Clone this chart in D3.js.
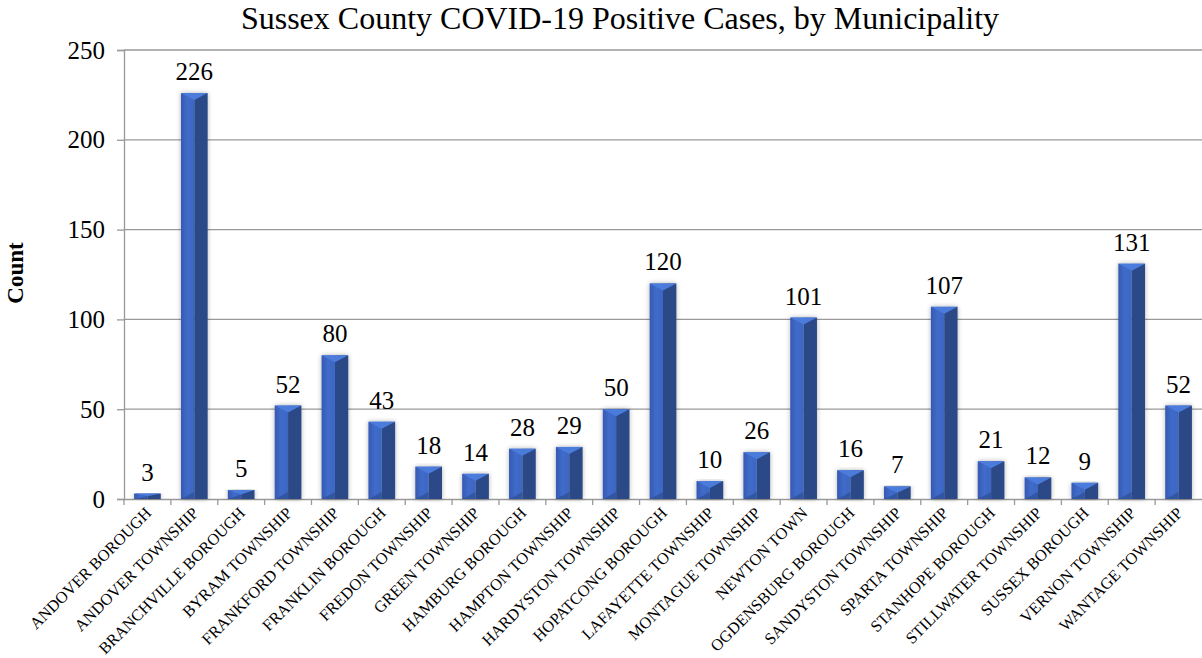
<!DOCTYPE html>
<html>
<meta charset="utf-8">
<script src="https://d3js.org/d3.v7.min.js"></script>
<style>
body { margin: 0; background: #fff; }
text { font-family: "Liberation Serif", "Times New Roman", serif; }
</style>
<body>
<script>

var towns = ["ANDOVER BOROUGH", "ANDOVER TOWNSHIP", "BRANCHVILLE BOROUGH", "BYRAM TOWNSHIP",
  "FRANKFORD TOWNSHIP", "FRANKLIN BOROUGH", "FREDON TOWNSHIP", "GREEN TOWNSHIP",
  "HAMBURG BOROUGH", "HAMPTON TOWNSHIP", "HARDYSTON TOWNSHIP", "HOPATCONG BOROUGH",
  "LAFAYETTE TOWNSHIP", "MONTAGUE TOWNSHIP", "NEWTON TOWN", "OGDENSBURG BOROUGH",
  "SANDYSTON TOWNSHIP", "SPARTA TOWNSHIP", "STANHOPE BOROUGH", "STILLWATER TOWNSHIP",
  "SUSSEX BOROUGH", "VERNON TOWNSHIP", "WANTAGE TOWNSHIP"];
var cases = [3, 226, 5, 52, 80, 43, 18, 14, 28, 29, 50, 120, 10, 26, 101, 16, 7, 107, 21, 12, 9, 131, 52];
var yTicks = [0, 50, 100, 150, 200, 250];

var width = 1202, height = 658;
var margin = ({top: 50, left: 124, right: 0, bottom: 159});

var svg = d3.select("body").append("svg")
  .attr("width", width)
  .attr("height", height);

var defs = svg.append("defs");
var f = defs.append("filter").attr("id", "shadow")
  .attr("x", "-30%").attr("y", "-10%").attr("width", "160%").attr("height", "120%");
f.append("feGaussianBlur").attr("in", "SourceAlpha").attr("stdDeviation", 2.5);
f.append("feOffset").attr("dx", 0).attr("dy", 0).attr("result", "blur");
f.append("feComponentTransfer").append("feFuncA").attr("type", "linear").attr("slope", 0.3);
var fm = f.append("feMerge");
fm.append("feMergeNode");
fm.append("feMergeNode").attr("in", "SourceGraphic");

var gl = defs.append("linearGradient").attr("id", "leftFace");
gl.append("stop").attr("offset", "0%").attr("stop-color", "#3659b2");
gl.append("stop").attr("offset", "50%").attr("stop-color", "#406cca");
gl.append("stop").attr("offset", "100%").attr("stop-color", "#3c65c2");

var x = d3.scaleBand()
  .domain(towns)
  .range([margin.left, width - margin.right])
  .paddingInner(0.43)
  .paddingOuter(0.215);

var xb = d3.scaleBand()
  .domain(towns)
  .range([margin.left, width - margin.right]);

var y = d3.scaleLinear()
  .domain([0, 250])
  .range([height - margin.bottom, margin.top]);

// gridlines
svg.append("g")
  .selectAll("line")
  .data(yTicks.slice(1))
  .enter().append("line")
  .attr("x1", margin.left).attr("x2", width - margin.right)
  .attr("y1", d => y(d)).attr("y2", d => y(d))
  .attr("stroke", "#999").attr("stroke-width", 1.3);

// y axis
var yAx = svg.append("g")
  .attr("transform", `translate(${margin.left},0)`)
  .call(d3.axisLeft(y).tickValues(yTicks).tickSize(7).tickPadding(12));
yAx.select(".domain").attr("stroke", "#999").attr("stroke-width", 1.3);
yAx.selectAll(".tick line").attr("stroke", "#999").attr("stroke-width", 1.3);
yAx.selectAll("text").attr("font-size", 25).attr("fill", "#000");

// x axis
var xAx = svg.append("g")
  .attr("transform", `translate(0,${y(0)})`)
  .call(d3.axisBottom(xb).tickSize(0).tickFormat(""));
xAx.select(".domain").attr("stroke", "#999").attr("stroke-width", 1.3);
xAx.selectAll(".tick").remove();
xAx.selectAll(".bnd")
  .data(towns)
  .enter().append("line")
  .attr("x1", d => xb(d)).attr("x2", d => xb(d))
  .attr("y1", 0).attr("y2", 6)
  .attr("stroke", "#999").attr("stroke-width", 1.3);

// bars
var bars = svg.append("g").selectAll("g")
  .data(towns)
  .enter().append("g")
  .attr("filter", "url(#shadow)");

bars.each(function(d, i) {
  var g = d3.select(this);
  var x0 = x(d), x1 = x(d) + x.bandwidth(), xm = (x0 + x1) / 2;
  var top = y(cases[i]), bot = y(0);
  var cap = Math.min(7, (bot - top) / 2);
  g.append("rect").attr("x", x0).attr("y", top).attr("width", xm - x0).attr("height", bot - top)
    .attr("fill", "url(#leftFace)");
  g.append("rect").attr("x", xm).attr("y", top).attr("width", x1 - xm).attr("height", bot - top)
    .attr("fill", "#2b4a86");
  g.append("path")
    .attr("d", `M${x0},${top}L${x1},${top}L${xm},${top + cap}Z`)
    .attr("fill", "#4b7bdc");
  g.append("path")
    .attr("d", `M${x0},${bot}L${xm},${bot - cap}L${xm},${bot}Z`)
    .attr("fill", "#2f5299").attr("opacity", 0.8);
});

// value labels
svg.append("g").selectAll("text")
  .data(towns)
  .enter().append("text")
  .attr("x", d => x(d) + x.bandwidth() / 2)
  .attr("y", (d, i) => y(cases[i]) - 13)
  .attr("text-anchor", "middle")
  .attr("font-size", 25)
  .text((d, i) => cases[i]);

// category labels
svg.append("g").selectAll("text")
  .data(towns)
  .enter().append("text")
  .attr("transform", d => `translate(${xb(d) + xb.bandwidth() / 2 + 5},${y(0) + 15}) rotate(-45)`)
  .attr("text-anchor", "end")
  .attr("font-size", 16.3)
  .text(d => d);

// title
svg.append("text")
  .attr("x", 620).attr("y", 29)
  .attr("text-anchor", "middle")
  .attr("font-size", 32)
  .text("Sussex County COVID-19 Positive Cases, by Municipality");

// y title
svg.append("text")
  .attr("transform", "translate(23,273) rotate(-90)")
  .attr("text-anchor", "middle")
  .attr("font-size", 23)
  .attr("font-weight", "bold")
  .text("Count");

</script>
</body>
</html>
